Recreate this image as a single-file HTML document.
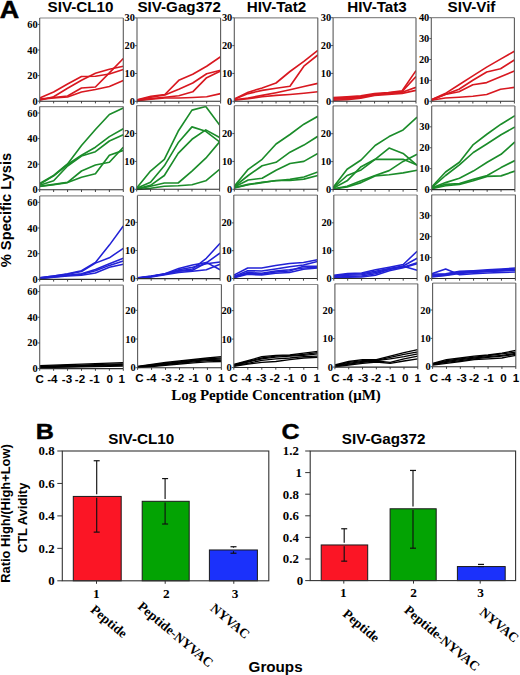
<!DOCTYPE html>
<html><head><meta charset="utf-8"><title>Figure</title>
<style>html,body{margin:0;padding:0;background:#fff;} body{width:520px;height:675px;overflow:hidden;} svg{display:block;}</style>
</head><body>
<svg width="520" height="675" viewBox="0 0 520 675">
<rect x="0" y="0" width="520" height="675" fill="#ffffff"/>
<text transform="translate(-0.2,17.9) scale(1.12,1)" font-family='"Liberation Sans", sans-serif' font-weight="bold" font-size="24" stroke="#000" stroke-width="0.5">A</text>
<text x="80.5" y="12" text-anchor="middle" font-family='"Liberation Sans", sans-serif' font-weight="bold" font-size="15.2">SIV-CL10</text>
<text x="179.2" y="12" text-anchor="middle" font-family='"Liberation Sans", sans-serif' font-weight="bold" font-size="15.2">SIV-Gag372</text>
<text x="276.5" y="12" text-anchor="middle" font-family='"Liberation Sans", sans-serif' font-weight="bold" font-size="15.2">HIV-Tat2</text>
<text x="377" y="12" text-anchor="middle" font-family='"Liberation Sans", sans-serif' font-weight="bold" font-size="15.2">HIV-Tat3</text>
<text x="471.5" y="12" text-anchor="middle" font-family='"Liberation Sans", sans-serif' font-weight="bold" font-size="15.2">SIV-Vif</text>
<clipPath id="c00"><rect x="39.7" y="18" width="83.6" height="84.2"/></clipPath>
<polyline clip-path="url(#c00)" points="39.7,98 53.63,92 67.57,84 81.5,76.5 95.43,76.2 109.37,74 123.3,69.5" fill="none" stroke="#d81820" stroke-width="1.65" stroke-linejoin="round"/>
<polyline clip-path="url(#c00)" points="39.7,100.2 53.63,96.8 67.57,88.3 81.5,80.3 95.43,73.3 109.37,69.2 123.3,66.2" fill="none" stroke="#d81820" stroke-width="1.65" stroke-linejoin="round"/>
<polyline clip-path="url(#c00)" points="39.7,99 53.63,97.5 67.57,96 81.5,88 95.43,87 109.37,72.8 123.3,58.5" fill="none" stroke="#d81820" stroke-width="1.65" stroke-linejoin="round"/>
<polyline clip-path="url(#c00)" points="39.7,99.5 53.63,98 67.57,97 81.5,92 95.43,89.5 109.37,86.5 123.3,80.5" fill="none" stroke="#d81820" stroke-width="1.65" stroke-linejoin="round"/>
<line x1="39.7" y1="18" x2="123.3" y2="18" stroke="#8a8a8a" stroke-width="1.2"/>
<line x1="123.3" y1="18" x2="123.3" y2="101.2" stroke="#5a5a5a" stroke-width="1.1"/>
<line x1="39.7" y1="18" x2="39.7" y2="101.2" stroke="#5a5a5a" stroke-width="1.1"/>
<line x1="39.7" y1="101.2" x2="123.3" y2="101.2" stroke="#2a2a2a" stroke-width="1.1"/>
<line x1="39.7" y1="101.2" x2="39.7" y2="103.4" stroke="#333" stroke-width="0.9"/>
<line x1="53.63" y1="101.2" x2="53.63" y2="103.4" stroke="#333" stroke-width="0.9"/>
<line x1="67.57" y1="101.2" x2="67.57" y2="103.4" stroke="#333" stroke-width="0.9"/>
<line x1="81.5" y1="101.2" x2="81.5" y2="103.4" stroke="#333" stroke-width="0.9"/>
<line x1="95.43" y1="101.2" x2="95.43" y2="103.4" stroke="#333" stroke-width="0.9"/>
<line x1="109.37" y1="101.2" x2="109.37" y2="103.4" stroke="#333" stroke-width="0.9"/>
<line x1="123.3" y1="101.2" x2="123.3" y2="103.4" stroke="#333" stroke-width="0.9"/>
<line x1="37.7" y1="101.2" x2="39.7" y2="101.2" stroke="#444" stroke-width="0.9"/>
<text x="37.7" y="104.7" text-anchor="end" font-family='"Liberation Serif", serif' font-weight="bold" font-size="10.4">0</text>
<line x1="37.7" y1="75.6" x2="39.7" y2="75.6" stroke="#444" stroke-width="0.9"/>
<text x="37.7" y="79.1" text-anchor="end" font-family='"Liberation Serif", serif' font-weight="bold" font-size="10.4">20</text>
<line x1="37.7" y1="50" x2="39.7" y2="50" stroke="#444" stroke-width="0.9"/>
<text x="37.7" y="53.5" text-anchor="end" font-family='"Liberation Serif", serif' font-weight="bold" font-size="10.4">40</text>
<line x1="37.7" y1="24.4" x2="39.7" y2="24.4" stroke="#444" stroke-width="0.9"/>
<text x="37.7" y="27.9" text-anchor="end" font-family='"Liberation Serif", serif' font-weight="bold" font-size="10.4">60</text>
<clipPath id="c01"><rect x="137" y="17.9" width="83.6" height="84.4"/></clipPath>
<polyline clip-path="url(#c01)" points="137,99.8 150.93,96.3 164.87,94.5 178.8,80.3 192.73,74.2 206.67,66.2 220.6,56.8" fill="none" stroke="#d81820" stroke-width="1.65" stroke-linejoin="round"/>
<polyline clip-path="url(#c01)" points="137,100.2 150.93,97.2 164.87,95 178.8,89.2 192.73,83 206.67,73.8 220.6,70.3" fill="none" stroke="#d81820" stroke-width="1.65" stroke-linejoin="round"/>
<polyline clip-path="url(#c01)" points="137,100.3 150.93,98.6 164.87,97.2 178.8,95.7 192.73,91.8 206.67,77.7 220.6,71" fill="none" stroke="#d81820" stroke-width="1.65" stroke-linejoin="round"/>
<polyline clip-path="url(#c01)" points="137,100.7 150.93,99.3 164.87,98 178.8,98 192.73,97.5 206.67,96.8 220.6,93.6" fill="none" stroke="#d81820" stroke-width="1.65" stroke-linejoin="round"/>
<line x1="137" y1="17.9" x2="220.6" y2="17.9" stroke="#8a8a8a" stroke-width="1.2"/>
<line x1="220.6" y1="17.9" x2="220.6" y2="101.3" stroke="#5a5a5a" stroke-width="1.1"/>
<line x1="137" y1="17.9" x2="137" y2="101.3" stroke="#5a5a5a" stroke-width="1.1"/>
<line x1="137" y1="101.3" x2="220.6" y2="101.3" stroke="#2a2a2a" stroke-width="1.1"/>
<line x1="137" y1="101.3" x2="137" y2="103.5" stroke="#333" stroke-width="0.9"/>
<line x1="150.93" y1="101.3" x2="150.93" y2="103.5" stroke="#333" stroke-width="0.9"/>
<line x1="164.87" y1="101.3" x2="164.87" y2="103.5" stroke="#333" stroke-width="0.9"/>
<line x1="178.8" y1="101.3" x2="178.8" y2="103.5" stroke="#333" stroke-width="0.9"/>
<line x1="192.73" y1="101.3" x2="192.73" y2="103.5" stroke="#333" stroke-width="0.9"/>
<line x1="206.67" y1="101.3" x2="206.67" y2="103.5" stroke="#333" stroke-width="0.9"/>
<line x1="220.6" y1="101.3" x2="220.6" y2="103.5" stroke="#333" stroke-width="0.9"/>
<line x1="135" y1="101.3" x2="137" y2="101.3" stroke="#444" stroke-width="0.9"/>
<text x="135" y="104.8" text-anchor="end" font-family='"Liberation Serif", serif' font-weight="bold" font-size="10.4">0</text>
<line x1="135" y1="73.5" x2="137" y2="73.5" stroke="#444" stroke-width="0.9"/>
<text x="135" y="77" text-anchor="end" font-family='"Liberation Serif", serif' font-weight="bold" font-size="10.4">10</text>
<line x1="135" y1="45.7" x2="137" y2="45.7" stroke="#444" stroke-width="0.9"/>
<text x="135" y="49.2" text-anchor="end" font-family='"Liberation Serif", serif' font-weight="bold" font-size="10.4">20</text>
<line x1="135" y1="17.9" x2="137" y2="17.9" stroke="#444" stroke-width="0.9"/>
<text x="135" y="21.4" text-anchor="end" font-family='"Liberation Serif", serif' font-weight="bold" font-size="10.4">30</text>
<clipPath id="c02"><rect x="234.3" y="17.8" width="83.5" height="84.5"/></clipPath>
<polyline clip-path="url(#c02)" points="234.3,98.9 248.22,92.2 262.13,88 276.05,83 289.97,71.5 303.88,61.4 317.8,50.3" fill="none" stroke="#d81820" stroke-width="1.65" stroke-linejoin="round"/>
<polyline clip-path="url(#c02)" points="234.3,99.3 248.22,93.6 262.13,90.4 276.05,88.3 289.97,86.2 303.88,66.2 317.8,55" fill="none" stroke="#d81820" stroke-width="1.65" stroke-linejoin="round"/>
<polyline clip-path="url(#c02)" points="234.3,99.8 248.22,98 262.13,95.4 276.05,92.7 289.97,89.7 303.88,86.5 317.8,83.4" fill="none" stroke="#d81820" stroke-width="1.65" stroke-linejoin="round"/>
<polyline clip-path="url(#c02)" points="234.3,100.3 248.22,98.6 262.13,96.8 276.05,95.4 289.97,94.5 303.88,93.3 317.8,91.8" fill="none" stroke="#d81820" stroke-width="1.65" stroke-linejoin="round"/>
<line x1="234.3" y1="17.8" x2="317.8" y2="17.8" stroke="#8a8a8a" stroke-width="1.2"/>
<line x1="317.8" y1="17.8" x2="317.8" y2="101.3" stroke="#5a5a5a" stroke-width="1.1"/>
<line x1="234.3" y1="17.8" x2="234.3" y2="101.3" stroke="#5a5a5a" stroke-width="1.1"/>
<line x1="234.3" y1="101.3" x2="317.8" y2="101.3" stroke="#2a2a2a" stroke-width="1.1"/>
<line x1="234.3" y1="101.3" x2="234.3" y2="103.5" stroke="#333" stroke-width="0.9"/>
<line x1="248.22" y1="101.3" x2="248.22" y2="103.5" stroke="#333" stroke-width="0.9"/>
<line x1="262.13" y1="101.3" x2="262.13" y2="103.5" stroke="#333" stroke-width="0.9"/>
<line x1="276.05" y1="101.3" x2="276.05" y2="103.5" stroke="#333" stroke-width="0.9"/>
<line x1="289.97" y1="101.3" x2="289.97" y2="103.5" stroke="#333" stroke-width="0.9"/>
<line x1="303.88" y1="101.3" x2="303.88" y2="103.5" stroke="#333" stroke-width="0.9"/>
<line x1="317.8" y1="101.3" x2="317.8" y2="103.5" stroke="#333" stroke-width="0.9"/>
<line x1="232.3" y1="101.3" x2="234.3" y2="101.3" stroke="#444" stroke-width="0.9"/>
<text x="232.3" y="104.8" text-anchor="end" font-family='"Liberation Serif", serif' font-weight="bold" font-size="10.4">0</text>
<line x1="232.3" y1="73.47" x2="234.3" y2="73.47" stroke="#444" stroke-width="0.9"/>
<text x="232.3" y="76.97" text-anchor="end" font-family='"Liberation Serif", serif' font-weight="bold" font-size="10.4">10</text>
<line x1="232.3" y1="45.63" x2="234.3" y2="45.63" stroke="#444" stroke-width="0.9"/>
<text x="232.3" y="49.13" text-anchor="end" font-family='"Liberation Serif", serif' font-weight="bold" font-size="10.4">20</text>
<line x1="232.3" y1="17.8" x2="234.3" y2="17.8" stroke="#444" stroke-width="0.9"/>
<text x="232.3" y="21.3" text-anchor="end" font-family='"Liberation Serif", serif' font-weight="bold" font-size="10.4">30</text>
<clipPath id="c03"><rect x="333.1" y="17.7" width="82.9" height="84.6"/></clipPath>
<polyline clip-path="url(#c03)" points="333.1,97.5 346.92,96.8 360.73,95.8 374.55,93.6 388.37,92.5 402.18,90.8 416,70.6" fill="none" stroke="#d81820" stroke-width="1.65" stroke-linejoin="round"/>
<polyline clip-path="url(#c03)" points="333.1,98.3 346.92,97.6 360.73,96.6 374.55,94.2 388.37,93.1 402.18,91.5 416,76.5" fill="none" stroke="#d81820" stroke-width="1.65" stroke-linejoin="round"/>
<polyline clip-path="url(#c03)" points="333.1,99.1 346.92,98.4 360.73,97.3 374.55,94.8 388.37,93.8 402.18,92.3 416,87.4" fill="none" stroke="#d81820" stroke-width="1.65" stroke-linejoin="round"/>
<polyline clip-path="url(#c03)" points="333.1,100.2 346.92,99.6 360.73,98.1 374.55,95.4 388.37,94.5 402.18,93.4 416,90.4" fill="none" stroke="#d81820" stroke-width="1.65" stroke-linejoin="round"/>
<line x1="333.1" y1="17.7" x2="416" y2="17.7" stroke="#8a8a8a" stroke-width="1.2"/>
<line x1="416" y1="17.7" x2="416" y2="101.3" stroke="#5a5a5a" stroke-width="1.1"/>
<line x1="333.1" y1="17.7" x2="333.1" y2="101.3" stroke="#5a5a5a" stroke-width="1.1"/>
<line x1="333.1" y1="101.3" x2="416" y2="101.3" stroke="#2a2a2a" stroke-width="1.1"/>
<line x1="333.1" y1="101.3" x2="333.1" y2="103.5" stroke="#333" stroke-width="0.9"/>
<line x1="346.92" y1="101.3" x2="346.92" y2="103.5" stroke="#333" stroke-width="0.9"/>
<line x1="360.73" y1="101.3" x2="360.73" y2="103.5" stroke="#333" stroke-width="0.9"/>
<line x1="374.55" y1="101.3" x2="374.55" y2="103.5" stroke="#333" stroke-width="0.9"/>
<line x1="388.37" y1="101.3" x2="388.37" y2="103.5" stroke="#333" stroke-width="0.9"/>
<line x1="402.18" y1="101.3" x2="402.18" y2="103.5" stroke="#333" stroke-width="0.9"/>
<line x1="416" y1="101.3" x2="416" y2="103.5" stroke="#333" stroke-width="0.9"/>
<line x1="331.1" y1="101.3" x2="333.1" y2="101.3" stroke="#444" stroke-width="0.9"/>
<text x="331.1" y="104.8" text-anchor="end" font-family='"Liberation Serif", serif' font-weight="bold" font-size="10.4">0</text>
<line x1="331.1" y1="73.43" x2="333.1" y2="73.43" stroke="#444" stroke-width="0.9"/>
<text x="331.1" y="76.93" text-anchor="end" font-family='"Liberation Serif", serif' font-weight="bold" font-size="10.4">10</text>
<line x1="331.1" y1="45.57" x2="333.1" y2="45.57" stroke="#444" stroke-width="0.9"/>
<text x="331.1" y="49.07" text-anchor="end" font-family='"Liberation Serif", serif' font-weight="bold" font-size="10.4">20</text>
<line x1="331.1" y1="17.7" x2="333.1" y2="17.7" stroke="#444" stroke-width="0.9"/>
<text x="331.1" y="21.2" text-anchor="end" font-family='"Liberation Serif", serif' font-weight="bold" font-size="10.4">30</text>
<clipPath id="c04"><rect x="431.3" y="17.7" width="83.1" height="84.6"/></clipPath>
<polyline clip-path="url(#c04)" points="431.3,99.8 445.15,93.6 459,84.8 472.85,75.9 486.7,67.1 500.55,59.1 514.4,51.2" fill="none" stroke="#d81820" stroke-width="1.65" stroke-linejoin="round"/>
<polyline clip-path="url(#c04)" points="431.3,99.8 445.15,94.5 459,89.2 472.85,80.3 486.7,72 500.55,68.8 514.4,60" fill="none" stroke="#d81820" stroke-width="1.65" stroke-linejoin="round"/>
<polyline clip-path="url(#c04)" points="431.3,100.2 445.15,94.5 459,91.8 472.85,84.8 486.7,82.6 500.55,76.8 514.4,71" fill="none" stroke="#d81820" stroke-width="1.65" stroke-linejoin="round"/>
<polyline clip-path="url(#c04)" points="431.3,100.3 445.15,98 459,97.2 472.85,96.3 486.7,94.5 500.55,89.2 514.4,87.4" fill="none" stroke="#d81820" stroke-width="1.65" stroke-linejoin="round"/>
<line x1="431.3" y1="17.7" x2="514.4" y2="17.7" stroke="#8a8a8a" stroke-width="1.2"/>
<line x1="514.4" y1="17.7" x2="514.4" y2="101.3" stroke="#5a5a5a" stroke-width="1.1"/>
<line x1="431.3" y1="17.7" x2="431.3" y2="101.3" stroke="#5a5a5a" stroke-width="1.1"/>
<line x1="431.3" y1="101.3" x2="514.4" y2="101.3" stroke="#2a2a2a" stroke-width="1.1"/>
<line x1="431.3" y1="101.3" x2="431.3" y2="103.5" stroke="#333" stroke-width="0.9"/>
<line x1="445.15" y1="101.3" x2="445.15" y2="103.5" stroke="#333" stroke-width="0.9"/>
<line x1="459" y1="101.3" x2="459" y2="103.5" stroke="#333" stroke-width="0.9"/>
<line x1="472.85" y1="101.3" x2="472.85" y2="103.5" stroke="#333" stroke-width="0.9"/>
<line x1="486.7" y1="101.3" x2="486.7" y2="103.5" stroke="#333" stroke-width="0.9"/>
<line x1="500.55" y1="101.3" x2="500.55" y2="103.5" stroke="#333" stroke-width="0.9"/>
<line x1="514.4" y1="101.3" x2="514.4" y2="103.5" stroke="#333" stroke-width="0.9"/>
<line x1="429.3" y1="101.3" x2="431.3" y2="101.3" stroke="#444" stroke-width="0.9"/>
<text x="429.3" y="104.8" text-anchor="end" font-family='"Liberation Serif", serif' font-weight="bold" font-size="10.4">0</text>
<line x1="429.3" y1="80.4" x2="431.3" y2="80.4" stroke="#444" stroke-width="0.9"/>
<text x="429.3" y="83.9" text-anchor="end" font-family='"Liberation Serif", serif' font-weight="bold" font-size="10.4">10</text>
<line x1="429.3" y1="59.5" x2="431.3" y2="59.5" stroke="#444" stroke-width="0.9"/>
<text x="429.3" y="63" text-anchor="end" font-family='"Liberation Serif", serif' font-weight="bold" font-size="10.4">20</text>
<line x1="429.3" y1="38.6" x2="431.3" y2="38.6" stroke="#444" stroke-width="0.9"/>
<text x="429.3" y="42.1" text-anchor="end" font-family='"Liberation Serif", serif' font-weight="bold" font-size="10.4">30</text>
<line x1="429.3" y1="17.7" x2="431.3" y2="17.7" stroke="#444" stroke-width="0.9"/>
<text x="429.3" y="21.2" text-anchor="end" font-family='"Liberation Serif", serif' font-weight="bold" font-size="10.4">40</text>
<clipPath id="c10"><rect x="39.7" y="106.6" width="83.6" height="84.2"/></clipPath>
<polyline clip-path="url(#c10)" points="39.7,183.5 53.63,175.5 67.57,164 81.5,145.5 95.43,129.5 109.37,114.5 123.3,108" fill="none" stroke="#1b8c2a" stroke-width="1.65" stroke-linejoin="round"/>
<polyline clip-path="url(#c10)" points="39.7,184.4 53.63,175.8 67.57,164.5 81.5,155.2 95.43,147.2 109.37,136.6 123.3,128.7" fill="none" stroke="#1b8c2a" stroke-width="1.65" stroke-linejoin="round"/>
<polyline clip-path="url(#c10)" points="39.7,185.3 53.63,180.8 67.57,166 81.5,156 95.43,151.7 109.37,141 123.3,134.8" fill="none" stroke="#1b8c2a" stroke-width="1.65" stroke-linejoin="round"/>
<polyline clip-path="url(#c10)" points="39.7,186.2 53.63,184.4 67.57,182.3 81.5,171 95.43,165 109.37,162.3 123.3,147.2" fill="none" stroke="#1b8c2a" stroke-width="1.65" stroke-linejoin="round"/>
<polyline clip-path="url(#c10)" points="39.7,186.5 53.63,184.7 67.57,182.6 81.5,177.3 95.43,173.8 109.37,155.2 123.3,150.4" fill="none" stroke="#1b8c2a" stroke-width="1.65" stroke-linejoin="round"/>
<line x1="39.7" y1="106.6" x2="123.3" y2="106.6" stroke="#8a8a8a" stroke-width="1.2"/>
<line x1="123.3" y1="106.6" x2="123.3" y2="189.8" stroke="#5a5a5a" stroke-width="1.1"/>
<line x1="39.7" y1="106.6" x2="39.7" y2="189.8" stroke="#5a5a5a" stroke-width="1.1"/>
<line x1="39.7" y1="189.8" x2="123.3" y2="189.8" stroke="#2a2a2a" stroke-width="1.1"/>
<line x1="39.7" y1="189.8" x2="39.7" y2="192" stroke="#333" stroke-width="0.9"/>
<line x1="53.63" y1="189.8" x2="53.63" y2="192" stroke="#333" stroke-width="0.9"/>
<line x1="67.57" y1="189.8" x2="67.57" y2="192" stroke="#333" stroke-width="0.9"/>
<line x1="81.5" y1="189.8" x2="81.5" y2="192" stroke="#333" stroke-width="0.9"/>
<line x1="95.43" y1="189.8" x2="95.43" y2="192" stroke="#333" stroke-width="0.9"/>
<line x1="109.37" y1="189.8" x2="109.37" y2="192" stroke="#333" stroke-width="0.9"/>
<line x1="123.3" y1="189.8" x2="123.3" y2="192" stroke="#333" stroke-width="0.9"/>
<line x1="37.7" y1="189.8" x2="39.7" y2="189.8" stroke="#444" stroke-width="0.9"/>
<text x="37.7" y="193.3" text-anchor="end" font-family='"Liberation Serif", serif' font-weight="bold" font-size="10.4">0</text>
<line x1="37.7" y1="164.2" x2="39.7" y2="164.2" stroke="#444" stroke-width="0.9"/>
<text x="37.7" y="167.7" text-anchor="end" font-family='"Liberation Serif", serif' font-weight="bold" font-size="10.4">20</text>
<line x1="37.7" y1="138.6" x2="39.7" y2="138.6" stroke="#444" stroke-width="0.9"/>
<text x="37.7" y="142.1" text-anchor="end" font-family='"Liberation Serif", serif' font-weight="bold" font-size="10.4">40</text>
<line x1="37.7" y1="113" x2="39.7" y2="113" stroke="#444" stroke-width="0.9"/>
<text x="37.7" y="116.5" text-anchor="end" font-family='"Liberation Serif", serif' font-weight="bold" font-size="10.4">60</text>
<clipPath id="c11"><rect x="136.7" y="105.6" width="82.9" height="84.7"/></clipPath>
<polyline clip-path="url(#c11)" points="136.7,188 150.52,171.1 164.33,159.3 178.15,131.3 191.97,110.1 205.78,106.5 219.6,125.1" fill="none" stroke="#1b8c2a" stroke-width="1.65" stroke-linejoin="round"/>
<polyline clip-path="url(#c11)" points="136.7,188.3 150.52,182.3 164.33,165.8 178.15,142.8 191.97,126.9 205.78,131.3 219.6,141.9" fill="none" stroke="#1b8c2a" stroke-width="1.65" stroke-linejoin="round"/>
<polyline clip-path="url(#c11)" points="136.7,188.8 150.52,185.3 164.33,175.5 178.15,153.4 191.97,139.3 205.78,129.9 219.6,137.5" fill="none" stroke="#1b8c2a" stroke-width="1.65" stroke-linejoin="round"/>
<polyline clip-path="url(#c11)" points="136.7,189.2 150.52,186.2 164.33,183 178.15,183 191.97,171.1 205.78,158.2 219.6,141.9" fill="none" stroke="#1b8c2a" stroke-width="1.65" stroke-linejoin="round"/>
<polyline clip-path="url(#c11)" points="136.7,189.7 150.52,188.3 164.33,186.2 178.15,185.8 191.97,184.7 205.78,180.8 219.6,169.3" fill="none" stroke="#1b8c2a" stroke-width="1.65" stroke-linejoin="round"/>
<line x1="136.7" y1="105.6" x2="219.6" y2="105.6" stroke="#8a8a8a" stroke-width="1.2"/>
<line x1="219.6" y1="105.6" x2="219.6" y2="189.3" stroke="#5a5a5a" stroke-width="1.1"/>
<line x1="136.7" y1="105.6" x2="136.7" y2="189.3" stroke="#5a5a5a" stroke-width="1.1"/>
<line x1="136.7" y1="189.3" x2="219.6" y2="189.3" stroke="#2a2a2a" stroke-width="1.1"/>
<line x1="136.7" y1="189.3" x2="136.7" y2="191.5" stroke="#333" stroke-width="0.9"/>
<line x1="150.52" y1="189.3" x2="150.52" y2="191.5" stroke="#333" stroke-width="0.9"/>
<line x1="164.33" y1="189.3" x2="164.33" y2="191.5" stroke="#333" stroke-width="0.9"/>
<line x1="178.15" y1="189.3" x2="178.15" y2="191.5" stroke="#333" stroke-width="0.9"/>
<line x1="191.97" y1="189.3" x2="191.97" y2="191.5" stroke="#333" stroke-width="0.9"/>
<line x1="205.78" y1="189.3" x2="205.78" y2="191.5" stroke="#333" stroke-width="0.9"/>
<line x1="219.6" y1="189.3" x2="219.6" y2="191.5" stroke="#333" stroke-width="0.9"/>
<line x1="134.7" y1="189.3" x2="136.7" y2="189.3" stroke="#444" stroke-width="0.9"/>
<text x="134.7" y="192.8" text-anchor="end" font-family='"Liberation Serif", serif' font-weight="bold" font-size="10.4">0</text>
<line x1="134.7" y1="161.4" x2="136.7" y2="161.4" stroke="#444" stroke-width="0.9"/>
<text x="134.7" y="164.9" text-anchor="end" font-family='"Liberation Serif", serif' font-weight="bold" font-size="10.4">10</text>
<line x1="134.7" y1="133.5" x2="136.7" y2="133.5" stroke="#444" stroke-width="0.9"/>
<text x="134.7" y="137" text-anchor="end" font-family='"Liberation Serif", serif' font-weight="bold" font-size="10.4">20</text>
<clipPath id="c12"><rect x="234.3" y="105.7" width="83.5" height="84.6"/></clipPath>
<polyline clip-path="url(#c12)" points="234.3,186.2 248.22,169.3 262.13,159.3 276.05,144 289.97,134.5 303.88,124.2 317.8,116.3" fill="none" stroke="#1b8c2a" stroke-width="1.65" stroke-linejoin="round"/>
<polyline clip-path="url(#c12)" points="234.3,186.5 248.22,175.5 262.13,165.8 276.05,162.3 289.97,152.2 303.88,145.1 317.8,136.3" fill="none" stroke="#1b8c2a" stroke-width="1.65" stroke-linejoin="round"/>
<polyline clip-path="url(#c12)" points="234.3,187 248.22,180 262.13,178.2 276.05,170.2 289.97,163.5 303.88,161.4 317.8,153.4" fill="none" stroke="#1b8c2a" stroke-width="1.65" stroke-linejoin="round"/>
<polyline clip-path="url(#c12)" points="234.3,187.6 248.22,184.4 262.13,182.3 276.05,180.8 289.97,179.4 303.88,177 317.8,172" fill="none" stroke="#1b8c2a" stroke-width="1.65" stroke-linejoin="round"/>
<polyline clip-path="url(#c12)" points="234.3,188 248.22,184.7 262.13,182.6 276.05,180.5 289.97,180.5 303.88,179.1 317.8,175.5" fill="none" stroke="#1b8c2a" stroke-width="1.65" stroke-linejoin="round"/>
<line x1="234.3" y1="105.7" x2="317.8" y2="105.7" stroke="#8a8a8a" stroke-width="1.2"/>
<line x1="317.8" y1="105.7" x2="317.8" y2="189.3" stroke="#5a5a5a" stroke-width="1.1"/>
<line x1="234.3" y1="105.7" x2="234.3" y2="189.3" stroke="#5a5a5a" stroke-width="1.1"/>
<line x1="234.3" y1="189.3" x2="317.8" y2="189.3" stroke="#2a2a2a" stroke-width="1.1"/>
<line x1="234.3" y1="189.3" x2="234.3" y2="191.5" stroke="#333" stroke-width="0.9"/>
<line x1="248.22" y1="189.3" x2="248.22" y2="191.5" stroke="#333" stroke-width="0.9"/>
<line x1="262.13" y1="189.3" x2="262.13" y2="191.5" stroke="#333" stroke-width="0.9"/>
<line x1="276.05" y1="189.3" x2="276.05" y2="191.5" stroke="#333" stroke-width="0.9"/>
<line x1="289.97" y1="189.3" x2="289.97" y2="191.5" stroke="#333" stroke-width="0.9"/>
<line x1="303.88" y1="189.3" x2="303.88" y2="191.5" stroke="#333" stroke-width="0.9"/>
<line x1="317.8" y1="189.3" x2="317.8" y2="191.5" stroke="#333" stroke-width="0.9"/>
<line x1="232.3" y1="189.3" x2="234.3" y2="189.3" stroke="#444" stroke-width="0.9"/>
<text x="232.3" y="192.8" text-anchor="end" font-family='"Liberation Serif", serif' font-weight="bold" font-size="10.4">0</text>
<line x1="232.3" y1="161.43" x2="234.3" y2="161.43" stroke="#444" stroke-width="0.9"/>
<text x="232.3" y="164.93" text-anchor="end" font-family='"Liberation Serif", serif' font-weight="bold" font-size="10.4">10</text>
<line x1="232.3" y1="133.57" x2="234.3" y2="133.57" stroke="#444" stroke-width="0.9"/>
<text x="232.3" y="137.07" text-anchor="end" font-family='"Liberation Serif", serif' font-weight="bold" font-size="10.4">20</text>
<clipPath id="c13"><rect x="333.1" y="105.8" width="84" height="84.7"/></clipPath>
<polyline clip-path="url(#c13)" points="333.1,187.6 347.1,169.3 361.1,160 375.1,145.5 389.1,136.6 403.1,129.9 417.1,117.2" fill="none" stroke="#1b8c2a" stroke-width="1.65" stroke-linejoin="round"/>
<polyline clip-path="url(#c13)" points="333.1,188 347.1,175.5 361.1,169.9 375.1,159.3 389.1,148.1 403.1,153.4 417.1,165.3" fill="none" stroke="#1b8c2a" stroke-width="1.65" stroke-linejoin="round"/>
<polyline clip-path="url(#c13)" points="333.1,188.3 347.1,180.8 361.1,166.7 375.1,159.3 389.1,159.3 403.1,159.3 417.1,164.9" fill="none" stroke="#1b8c2a" stroke-width="1.65" stroke-linejoin="round"/>
<polyline clip-path="url(#c13)" points="333.1,188.8 347.1,186.2 361.1,180.8 375.1,175.5 389.1,170.6 403.1,161.4 417.1,154.3" fill="none" stroke="#1b8c2a" stroke-width="1.65" stroke-linejoin="round"/>
<polyline clip-path="url(#c13)" points="333.1,189.2 347.1,187 361.1,182.6 375.1,175.9 389.1,174.7 403.1,172.9 417.1,170.2" fill="none" stroke="#1b8c2a" stroke-width="1.65" stroke-linejoin="round"/>
<line x1="333.1" y1="105.8" x2="417.1" y2="105.8" stroke="#8a8a8a" stroke-width="1.2"/>
<line x1="417.1" y1="105.8" x2="417.1" y2="189.5" stroke="#5a5a5a" stroke-width="1.1"/>
<line x1="333.1" y1="105.8" x2="333.1" y2="189.5" stroke="#5a5a5a" stroke-width="1.1"/>
<line x1="333.1" y1="189.5" x2="417.1" y2="189.5" stroke="#2a2a2a" stroke-width="1.1"/>
<line x1="333.1" y1="189.5" x2="333.1" y2="191.7" stroke="#333" stroke-width="0.9"/>
<line x1="347.1" y1="189.5" x2="347.1" y2="191.7" stroke="#333" stroke-width="0.9"/>
<line x1="361.1" y1="189.5" x2="361.1" y2="191.7" stroke="#333" stroke-width="0.9"/>
<line x1="375.1" y1="189.5" x2="375.1" y2="191.7" stroke="#333" stroke-width="0.9"/>
<line x1="389.1" y1="189.5" x2="389.1" y2="191.7" stroke="#333" stroke-width="0.9"/>
<line x1="403.1" y1="189.5" x2="403.1" y2="191.7" stroke="#333" stroke-width="0.9"/>
<line x1="417.1" y1="189.5" x2="417.1" y2="191.7" stroke="#333" stroke-width="0.9"/>
<line x1="331.1" y1="189.5" x2="333.1" y2="189.5" stroke="#444" stroke-width="0.9"/>
<text x="331.1" y="193" text-anchor="end" font-family='"Liberation Serif", serif' font-weight="bold" font-size="10.4">0</text>
<line x1="331.1" y1="161.6" x2="333.1" y2="161.6" stroke="#444" stroke-width="0.9"/>
<text x="331.1" y="165.1" text-anchor="end" font-family='"Liberation Serif", serif' font-weight="bold" font-size="10.4">10</text>
<line x1="331.1" y1="133.7" x2="333.1" y2="133.7" stroke="#444" stroke-width="0.9"/>
<text x="331.1" y="137.2" text-anchor="end" font-family='"Liberation Serif", serif' font-weight="bold" font-size="10.4">20</text>
<clipPath id="c14"><rect x="431.7" y="105.9" width="83.2" height="84.7"/></clipPath>
<polyline clip-path="url(#c14)" points="431.7,187 445.57,172 459.43,162.3 473.3,144.6 487.17,134 501.03,124.2 514.9,115.7" fill="none" stroke="#1b8c2a" stroke-width="1.65" stroke-linejoin="round"/>
<polyline clip-path="url(#c14)" points="431.7,187.6 445.57,175.5 459.43,164.9 473.3,152.5 487.17,143.7 501.03,134.8 514.9,126.9" fill="none" stroke="#1b8c2a" stroke-width="1.65" stroke-linejoin="round"/>
<polyline clip-path="url(#c14)" points="431.7,187.9 445.57,182.6 459.43,178.2 473.3,171.1 487.17,162.3 501.03,154.3 514.9,141.9" fill="none" stroke="#1b8c2a" stroke-width="1.65" stroke-linejoin="round"/>
<polyline clip-path="url(#c14)" points="431.7,188.3 445.57,184.4 459.43,183.5 473.3,179.4 487.17,175.5 501.03,167.6 514.9,160.5" fill="none" stroke="#1b8c2a" stroke-width="1.65" stroke-linejoin="round"/>
<polyline clip-path="url(#c14)" points="431.7,188.8 445.57,185.8 459.43,184.4 473.3,180.8 487.17,176.4 501.03,175.9 514.9,171.1" fill="none" stroke="#1b8c2a" stroke-width="1.65" stroke-linejoin="round"/>
<line x1="431.7" y1="105.9" x2="514.9" y2="105.9" stroke="#8a8a8a" stroke-width="1.2"/>
<line x1="514.9" y1="105.9" x2="514.9" y2="189.6" stroke="#5a5a5a" stroke-width="1.1"/>
<line x1="431.7" y1="105.9" x2="431.7" y2="189.6" stroke="#5a5a5a" stroke-width="1.1"/>
<line x1="431.7" y1="189.6" x2="514.9" y2="189.6" stroke="#2a2a2a" stroke-width="1.1"/>
<line x1="431.7" y1="189.6" x2="431.7" y2="191.8" stroke="#333" stroke-width="0.9"/>
<line x1="445.57" y1="189.6" x2="445.57" y2="191.8" stroke="#333" stroke-width="0.9"/>
<line x1="459.43" y1="189.6" x2="459.43" y2="191.8" stroke="#333" stroke-width="0.9"/>
<line x1="473.3" y1="189.6" x2="473.3" y2="191.8" stroke="#333" stroke-width="0.9"/>
<line x1="487.17" y1="189.6" x2="487.17" y2="191.8" stroke="#333" stroke-width="0.9"/>
<line x1="501.03" y1="189.6" x2="501.03" y2="191.8" stroke="#333" stroke-width="0.9"/>
<line x1="514.9" y1="189.6" x2="514.9" y2="191.8" stroke="#333" stroke-width="0.9"/>
<line x1="429.7" y1="189.6" x2="431.7" y2="189.6" stroke="#444" stroke-width="0.9"/>
<text x="429.7" y="193.1" text-anchor="end" font-family='"Liberation Serif", serif' font-weight="bold" font-size="10.4">0</text>
<line x1="429.7" y1="168.68" x2="431.7" y2="168.68" stroke="#444" stroke-width="0.9"/>
<text x="429.7" y="172.18" text-anchor="end" font-family='"Liberation Serif", serif' font-weight="bold" font-size="10.4">10</text>
<line x1="429.7" y1="147.75" x2="431.7" y2="147.75" stroke="#444" stroke-width="0.9"/>
<text x="429.7" y="151.25" text-anchor="end" font-family='"Liberation Serif", serif' font-weight="bold" font-size="10.4">20</text>
<line x1="429.7" y1="126.83" x2="431.7" y2="126.83" stroke="#444" stroke-width="0.9"/>
<text x="429.7" y="130.32" text-anchor="end" font-family='"Liberation Serif", serif' font-weight="bold" font-size="10.4">30</text>
<clipPath id="c20"><rect x="39.7" y="195.9" width="83.6" height="84.5"/></clipPath>
<polyline clip-path="url(#c20)" points="39.7,277.8 53.63,276 67.57,273.7 81.5,270.7 95.43,262.4 109.37,245.1 123.3,226" fill="none" stroke="#2222d6" stroke-width="1.55" stroke-linejoin="round"/>
<polyline clip-path="url(#c20)" points="39.7,277.8 53.63,276 67.57,274.3 81.5,271.6 95.43,263.1 109.37,257.8 123.3,248.3" fill="none" stroke="#2222d6" stroke-width="1.55" stroke-linejoin="round"/>
<polyline clip-path="url(#c20)" points="39.7,278.2 53.63,276.6 67.57,275.2 81.5,273.7 95.43,269.5 109.37,263.7 123.3,258.3" fill="none" stroke="#2222d6" stroke-width="1.55" stroke-linejoin="round"/>
<polyline clip-path="url(#c20)" points="39.7,278.3 53.63,276.9 67.57,275.5 81.5,274.3 95.43,270.7 109.37,265.4 123.3,261" fill="none" stroke="#2222d6" stroke-width="1.55" stroke-linejoin="round"/>
<polyline clip-path="url(#c20)" points="39.7,278.7 53.63,277.3 67.57,276 81.5,275.2 95.43,273 109.37,267.2 123.3,264.2" fill="none" stroke="#2222d6" stroke-width="1.55" stroke-linejoin="round"/>
<line x1="39.7" y1="195.9" x2="123.3" y2="195.9" stroke="#8a8a8a" stroke-width="1.2"/>
<line x1="123.3" y1="195.9" x2="123.3" y2="279.4" stroke="#5a5a5a" stroke-width="1.1"/>
<line x1="39.7" y1="195.9" x2="39.7" y2="279.4" stroke="#5a5a5a" stroke-width="1.1"/>
<line x1="39.7" y1="279.4" x2="123.3" y2="279.4" stroke="#2a2a2a" stroke-width="1.1"/>
<line x1="39.7" y1="279.4" x2="39.7" y2="281.6" stroke="#333" stroke-width="0.9"/>
<line x1="53.63" y1="279.4" x2="53.63" y2="281.6" stroke="#333" stroke-width="0.9"/>
<line x1="67.57" y1="279.4" x2="67.57" y2="281.6" stroke="#333" stroke-width="0.9"/>
<line x1="81.5" y1="279.4" x2="81.5" y2="281.6" stroke="#333" stroke-width="0.9"/>
<line x1="95.43" y1="279.4" x2="95.43" y2="281.6" stroke="#333" stroke-width="0.9"/>
<line x1="109.37" y1="279.4" x2="109.37" y2="281.6" stroke="#333" stroke-width="0.9"/>
<line x1="123.3" y1="279.4" x2="123.3" y2="281.6" stroke="#333" stroke-width="0.9"/>
<line x1="37.7" y1="279.4" x2="39.7" y2="279.4" stroke="#444" stroke-width="0.9"/>
<text x="37.7" y="282.9" text-anchor="end" font-family='"Liberation Serif", serif' font-weight="bold" font-size="10.4">0</text>
<line x1="37.7" y1="253.71" x2="39.7" y2="253.71" stroke="#444" stroke-width="0.9"/>
<text x="37.7" y="257.21" text-anchor="end" font-family='"Liberation Serif", serif' font-weight="bold" font-size="10.4">20</text>
<line x1="37.7" y1="228.02" x2="39.7" y2="228.02" stroke="#444" stroke-width="0.9"/>
<text x="37.7" y="231.52" text-anchor="end" font-family='"Liberation Serif", serif' font-weight="bold" font-size="10.4">40</text>
<line x1="37.7" y1="202.32" x2="39.7" y2="202.32" stroke="#444" stroke-width="0.9"/>
<text x="37.7" y="205.82" text-anchor="end" font-family='"Liberation Serif", serif' font-weight="bold" font-size="10.4">60</text>
<clipPath id="c21"><rect x="137.4" y="195.4" width="82.7" height="84.2"/></clipPath>
<polyline clip-path="url(#c21)" points="137.4,277.8 151.18,276 164.97,273.7 178.75,270.7 192.53,269 206.32,258.3 220.1,243.3" fill="none" stroke="#2222d6" stroke-width="1.55" stroke-linejoin="round"/>
<polyline clip-path="url(#c21)" points="137.4,278 151.18,276.2 164.97,274.3 178.75,271.3 192.53,270.2 206.32,262.8 220.1,253" fill="none" stroke="#2222d6" stroke-width="1.55" stroke-linejoin="round"/>
<polyline clip-path="url(#c21)" points="137.4,278.2 151.18,276.4 164.97,273.7 178.75,268.4 192.53,264.9 206.32,262.4 220.1,269.8" fill="none" stroke="#2222d6" stroke-width="1.55" stroke-linejoin="round"/>
<polyline clip-path="url(#c21)" points="137.4,278.3 151.18,276.6 164.97,274.3 178.75,269.8 192.53,267.2 206.32,263.7 220.1,261.9" fill="none" stroke="#2222d6" stroke-width="1.55" stroke-linejoin="round"/>
<polyline clip-path="url(#c21)" points="137.4,278.5 151.18,277 164.97,274.8 178.75,272.5 192.53,271.3 206.32,269.8 220.1,264.2" fill="none" stroke="#2222d6" stroke-width="1.55" stroke-linejoin="round"/>
<line x1="137.4" y1="195.4" x2="220.1" y2="195.4" stroke="#8a8a8a" stroke-width="1.2"/>
<line x1="220.1" y1="195.4" x2="220.1" y2="278.6" stroke="#5a5a5a" stroke-width="1.1"/>
<line x1="137.4" y1="195.4" x2="137.4" y2="278.6" stroke="#5a5a5a" stroke-width="1.1"/>
<line x1="137.4" y1="278.6" x2="220.1" y2="278.6" stroke="#2a2a2a" stroke-width="1.1"/>
<line x1="137.4" y1="278.6" x2="137.4" y2="280.8" stroke="#333" stroke-width="0.9"/>
<line x1="151.18" y1="278.6" x2="151.18" y2="280.8" stroke="#333" stroke-width="0.9"/>
<line x1="164.97" y1="278.6" x2="164.97" y2="280.8" stroke="#333" stroke-width="0.9"/>
<line x1="178.75" y1="278.6" x2="178.75" y2="280.8" stroke="#333" stroke-width="0.9"/>
<line x1="192.53" y1="278.6" x2="192.53" y2="280.8" stroke="#333" stroke-width="0.9"/>
<line x1="206.32" y1="278.6" x2="206.32" y2="280.8" stroke="#333" stroke-width="0.9"/>
<line x1="220.1" y1="278.6" x2="220.1" y2="280.8" stroke="#333" stroke-width="0.9"/>
<line x1="135.4" y1="278.6" x2="137.4" y2="278.6" stroke="#444" stroke-width="0.9"/>
<text x="135.4" y="282.1" text-anchor="end" font-family='"Liberation Serif", serif' font-weight="bold" font-size="10.4">0</text>
<line x1="135.4" y1="250.49" x2="137.4" y2="250.49" stroke="#444" stroke-width="0.9"/>
<text x="135.4" y="253.99" text-anchor="end" font-family='"Liberation Serif", serif' font-weight="bold" font-size="10.4">10</text>
<line x1="135.4" y1="222.38" x2="137.4" y2="222.38" stroke="#444" stroke-width="0.9"/>
<text x="135.4" y="225.88" text-anchor="end" font-family='"Liberation Serif", serif' font-weight="bold" font-size="10.4">20</text>
<clipPath id="c22"><rect x="233.8" y="195.1" width="83.6" height="84.4"/></clipPath>
<polyline clip-path="url(#c22)" points="233.8,275.1 247.73,268 261.67,268 275.6,265.4 289.53,263.6 303.47,262.4 317.4,259.7" fill="none" stroke="#2222d6" stroke-width="1.55" stroke-linejoin="round"/>
<polyline clip-path="url(#c22)" points="233.8,276.4 247.73,270.7 261.67,271 275.6,268.9 289.53,266.8 303.47,265 317.4,261.5" fill="none" stroke="#2222d6" stroke-width="1.55" stroke-linejoin="round"/>
<polyline clip-path="url(#c22)" points="233.8,276.9 247.73,272.5 261.67,273.3 275.6,271 289.53,269.8 303.47,268 317.4,267.2" fill="none" stroke="#2222d6" stroke-width="1.55" stroke-linejoin="round"/>
<polyline clip-path="url(#c22)" points="233.8,277.4 247.73,273.3 261.67,274.2 275.6,272.1 289.53,271 303.47,266.3 317.4,266.3" fill="none" stroke="#2222d6" stroke-width="1.55" stroke-linejoin="round"/>
<polyline clip-path="url(#c22)" points="233.8,277.8 247.73,274.2 261.67,275.1 275.6,273.3 289.53,272.5 303.47,269.3 317.4,268" fill="none" stroke="#2222d6" stroke-width="1.55" stroke-linejoin="round"/>
<line x1="233.8" y1="195.1" x2="317.4" y2="195.1" stroke="#8a8a8a" stroke-width="1.2"/>
<line x1="317.4" y1="195.1" x2="317.4" y2="278.5" stroke="#5a5a5a" stroke-width="1.1"/>
<line x1="233.8" y1="195.1" x2="233.8" y2="278.5" stroke="#5a5a5a" stroke-width="1.1"/>
<line x1="233.8" y1="278.5" x2="317.4" y2="278.5" stroke="#2a2a2a" stroke-width="1.1"/>
<line x1="233.8" y1="278.5" x2="233.8" y2="280.7" stroke="#333" stroke-width="0.9"/>
<line x1="247.73" y1="278.5" x2="247.73" y2="280.7" stroke="#333" stroke-width="0.9"/>
<line x1="261.67" y1="278.5" x2="261.67" y2="280.7" stroke="#333" stroke-width="0.9"/>
<line x1="275.6" y1="278.5" x2="275.6" y2="280.7" stroke="#333" stroke-width="0.9"/>
<line x1="289.53" y1="278.5" x2="289.53" y2="280.7" stroke="#333" stroke-width="0.9"/>
<line x1="303.47" y1="278.5" x2="303.47" y2="280.7" stroke="#333" stroke-width="0.9"/>
<line x1="317.4" y1="278.5" x2="317.4" y2="280.7" stroke="#333" stroke-width="0.9"/>
<line x1="231.8" y1="278.5" x2="233.8" y2="278.5" stroke="#444" stroke-width="0.9"/>
<text x="231.8" y="282" text-anchor="end" font-family='"Liberation Serif", serif' font-weight="bold" font-size="10.4">0</text>
<line x1="231.8" y1="250.7" x2="233.8" y2="250.7" stroke="#444" stroke-width="0.9"/>
<text x="231.8" y="254.2" text-anchor="end" font-family='"Liberation Serif", serif' font-weight="bold" font-size="10.4">10</text>
<line x1="231.8" y1="222.9" x2="233.8" y2="222.9" stroke="#444" stroke-width="0.9"/>
<text x="231.8" y="226.4" text-anchor="end" font-family='"Liberation Serif", serif' font-weight="bold" font-size="10.4">20</text>
<clipPath id="c23"><rect x="333.8" y="195" width="83.3" height="84.5"/></clipPath>
<polyline clip-path="url(#c23)" points="333.8,275.2 347.68,273.4 361.57,273 375.45,269.8 389.33,267.2 403.22,264.5 417.1,251.3" fill="none" stroke="#2222d6" stroke-width="1.55" stroke-linejoin="round"/>
<polyline clip-path="url(#c23)" points="333.8,276 347.68,274.3 361.57,273.7 375.45,271.3 389.33,268.4 403.22,266 417.1,258.3" fill="none" stroke="#2222d6" stroke-width="1.55" stroke-linejoin="round"/>
<polyline clip-path="url(#c23)" points="333.8,276.6 347.68,275.2 361.57,274.8 375.45,272.5 389.33,269 403.22,267.2 417.1,262.8" fill="none" stroke="#2222d6" stroke-width="1.55" stroke-linejoin="round"/>
<polyline clip-path="url(#c23)" points="333.8,277.3 347.68,276.6 361.57,276 375.45,273.7 389.33,269.5 403.22,266.3 417.1,270.2" fill="none" stroke="#2222d6" stroke-width="1.55" stroke-linejoin="round"/>
<polyline clip-path="url(#c23)" points="333.8,277.8 347.68,277.3 361.57,276.9 375.45,275.2 389.33,270.7 403.22,267.7 417.1,263.7" fill="none" stroke="#2222d6" stroke-width="1.55" stroke-linejoin="round"/>
<line x1="333.8" y1="195" x2="417.1" y2="195" stroke="#8a8a8a" stroke-width="1.2"/>
<line x1="417.1" y1="195" x2="417.1" y2="278.5" stroke="#5a5a5a" stroke-width="1.1"/>
<line x1="333.8" y1="195" x2="333.8" y2="278.5" stroke="#5a5a5a" stroke-width="1.1"/>
<line x1="333.8" y1="278.5" x2="417.1" y2="278.5" stroke="#2a2a2a" stroke-width="1.1"/>
<line x1="333.8" y1="278.5" x2="333.8" y2="280.7" stroke="#333" stroke-width="0.9"/>
<line x1="347.68" y1="278.5" x2="347.68" y2="280.7" stroke="#333" stroke-width="0.9"/>
<line x1="361.57" y1="278.5" x2="361.57" y2="280.7" stroke="#333" stroke-width="0.9"/>
<line x1="375.45" y1="278.5" x2="375.45" y2="280.7" stroke="#333" stroke-width="0.9"/>
<line x1="389.33" y1="278.5" x2="389.33" y2="280.7" stroke="#333" stroke-width="0.9"/>
<line x1="403.22" y1="278.5" x2="403.22" y2="280.7" stroke="#333" stroke-width="0.9"/>
<line x1="417.1" y1="278.5" x2="417.1" y2="280.7" stroke="#333" stroke-width="0.9"/>
<line x1="331.8" y1="278.5" x2="333.8" y2="278.5" stroke="#444" stroke-width="0.9"/>
<text x="331.8" y="282" text-anchor="end" font-family='"Liberation Serif", serif' font-weight="bold" font-size="10.4">0</text>
<line x1="331.8" y1="250.67" x2="333.8" y2="250.67" stroke="#444" stroke-width="0.9"/>
<text x="331.8" y="254.17" text-anchor="end" font-family='"Liberation Serif", serif' font-weight="bold" font-size="10.4">10</text>
<line x1="331.8" y1="222.83" x2="333.8" y2="222.83" stroke="#444" stroke-width="0.9"/>
<text x="331.8" y="226.33" text-anchor="end" font-family='"Liberation Serif", serif' font-weight="bold" font-size="10.4">20</text>
<clipPath id="c24"><rect x="431.7" y="194.8" width="83.7" height="84.7"/></clipPath>
<polyline clip-path="url(#c24)" points="431.7,273.7 445.65,269 459.6,274.8 473.55,273.7 487.5,273 501.45,272.5 515.4,272" fill="none" stroke="#2222d6" stroke-width="1.55" stroke-linejoin="round"/>
<polyline clip-path="url(#c24)" points="431.7,274.3 445.65,273.7 459.6,271.3 473.55,270.7 487.5,269.8 501.45,269.1 515.4,268.1" fill="none" stroke="#2222d6" stroke-width="1.55" stroke-linejoin="round"/>
<polyline clip-path="url(#c24)" points="431.7,275.2 445.65,274.3 459.6,272 473.55,271.3 487.5,270.7 501.45,269.8 515.4,269" fill="none" stroke="#2222d6" stroke-width="1.55" stroke-linejoin="round"/>
<polyline clip-path="url(#c24)" points="431.7,276 445.65,275.2 459.6,272.5 473.55,272 487.5,271.3 501.45,270.4 515.4,269.8" fill="none" stroke="#2222d6" stroke-width="1.55" stroke-linejoin="round"/>
<polyline clip-path="url(#c24)" points="431.7,276.9 445.65,275.5 459.6,273.4 473.55,272.5 487.5,271.6 501.45,270.9 515.4,270.2" fill="none" stroke="#2222d6" stroke-width="1.55" stroke-linejoin="round"/>
<line x1="431.7" y1="194.8" x2="515.4" y2="194.8" stroke="#8a8a8a" stroke-width="1.2"/>
<line x1="515.4" y1="194.8" x2="515.4" y2="278.5" stroke="#5a5a5a" stroke-width="1.1"/>
<line x1="431.7" y1="194.8" x2="431.7" y2="278.5" stroke="#5a5a5a" stroke-width="1.1"/>
<line x1="431.7" y1="278.5" x2="515.4" y2="278.5" stroke="#2a2a2a" stroke-width="1.1"/>
<line x1="431.7" y1="278.5" x2="431.7" y2="280.7" stroke="#333" stroke-width="0.9"/>
<line x1="445.65" y1="278.5" x2="445.65" y2="280.7" stroke="#333" stroke-width="0.9"/>
<line x1="459.6" y1="278.5" x2="459.6" y2="280.7" stroke="#333" stroke-width="0.9"/>
<line x1="473.55" y1="278.5" x2="473.55" y2="280.7" stroke="#333" stroke-width="0.9"/>
<line x1="487.5" y1="278.5" x2="487.5" y2="280.7" stroke="#333" stroke-width="0.9"/>
<line x1="501.45" y1="278.5" x2="501.45" y2="280.7" stroke="#333" stroke-width="0.9"/>
<line x1="515.4" y1="278.5" x2="515.4" y2="280.7" stroke="#333" stroke-width="0.9"/>
<line x1="429.7" y1="278.5" x2="431.7" y2="278.5" stroke="#444" stroke-width="0.9"/>
<text x="429.7" y="282" text-anchor="end" font-family='"Liberation Serif", serif' font-weight="bold" font-size="10.4">0</text>
<line x1="429.7" y1="257.57" x2="431.7" y2="257.57" stroke="#444" stroke-width="0.9"/>
<text x="429.7" y="261.07" text-anchor="end" font-family='"Liberation Serif", serif' font-weight="bold" font-size="10.4">10</text>
<line x1="429.7" y1="236.65" x2="431.7" y2="236.65" stroke="#444" stroke-width="0.9"/>
<text x="429.7" y="240.15" text-anchor="end" font-family='"Liberation Serif", serif' font-weight="bold" font-size="10.4">20</text>
<line x1="429.7" y1="215.73" x2="431.7" y2="215.73" stroke="#444" stroke-width="0.9"/>
<text x="429.7" y="219.23" text-anchor="end" font-family='"Liberation Serif", serif' font-weight="bold" font-size="10.4">30</text>
<clipPath id="c30"><rect x="39.7" y="285.2" width="83.6" height="84.4"/></clipPath>
<polyline clip-path="url(#c30)" points="39.7,365.6 53.63,365.12 67.57,364.63 81.5,364.15 95.43,363.67 109.37,363.18 123.3,362.7" fill="none" stroke="#000000" stroke-width="1.3" stroke-linejoin="round"/>
<polyline clip-path="url(#c30)" points="39.7,366.3 53.63,365.88 67.57,365.47 81.5,365.05 95.43,364.63 109.37,364.22 123.3,363.8" fill="none" stroke="#000000" stroke-width="1.3" stroke-linejoin="round"/>
<polyline clip-path="url(#c30)" points="39.7,366.8 53.63,366.42 67.57,366.03 81.5,365.65 95.43,365.27 109.37,364.88 123.3,364.5" fill="none" stroke="#000000" stroke-width="1.3" stroke-linejoin="round"/>
<polyline clip-path="url(#c30)" points="39.7,367.3 53.63,366.95 67.57,366.6 81.5,366.25 95.43,365.9 109.37,365.55 123.3,365.2" fill="none" stroke="#000000" stroke-width="1.3" stroke-linejoin="round"/>
<polyline clip-path="url(#c30)" points="39.7,367.7 53.63,367.42 67.57,367.13 81.5,366.85 95.43,366.57 109.37,366.28 123.3,366" fill="none" stroke="#000000" stroke-width="1.3" stroke-linejoin="round"/>
<line x1="39.7" y1="285.2" x2="123.3" y2="285.2" stroke="#8a8a8a" stroke-width="1.2"/>
<line x1="123.3" y1="285.2" x2="123.3" y2="368.6" stroke="#5a5a5a" stroke-width="1.1"/>
<line x1="39.7" y1="285.2" x2="39.7" y2="368.6" stroke="#5a5a5a" stroke-width="1.1"/>
<line x1="39.7" y1="368.6" x2="123.3" y2="368.6" stroke="#2a2a2a" stroke-width="1.1"/>
<line x1="39.7" y1="368.6" x2="39.7" y2="370.8" stroke="#333" stroke-width="0.9"/>
<line x1="53.63" y1="368.6" x2="53.63" y2="370.8" stroke="#333" stroke-width="0.9"/>
<line x1="67.57" y1="368.6" x2="67.57" y2="370.8" stroke="#333" stroke-width="0.9"/>
<line x1="81.5" y1="368.6" x2="81.5" y2="370.8" stroke="#333" stroke-width="0.9"/>
<line x1="95.43" y1="368.6" x2="95.43" y2="370.8" stroke="#333" stroke-width="0.9"/>
<line x1="109.37" y1="368.6" x2="109.37" y2="370.8" stroke="#333" stroke-width="0.9"/>
<line x1="123.3" y1="368.6" x2="123.3" y2="370.8" stroke="#333" stroke-width="0.9"/>
<line x1="37.7" y1="368.6" x2="39.7" y2="368.6" stroke="#444" stroke-width="0.9"/>
<text x="37.7" y="372.1" text-anchor="end" font-family='"Liberation Serif", serif' font-weight="bold" font-size="10.4">0</text>
<line x1="37.7" y1="342.94" x2="39.7" y2="342.94" stroke="#444" stroke-width="0.9"/>
<text x="37.7" y="346.44" text-anchor="end" font-family='"Liberation Serif", serif' font-weight="bold" font-size="10.4">20</text>
<line x1="37.7" y1="317.28" x2="39.7" y2="317.28" stroke="#444" stroke-width="0.9"/>
<text x="37.7" y="320.78" text-anchor="end" font-family='"Liberation Serif", serif' font-weight="bold" font-size="10.4">40</text>
<line x1="37.7" y1="291.62" x2="39.7" y2="291.62" stroke="#444" stroke-width="0.9"/>
<text x="37.7" y="295.12" text-anchor="end" font-family='"Liberation Serif", serif' font-weight="bold" font-size="10.4">60</text>
<clipPath id="c31"><rect x="137.6" y="284.5" width="83.8" height="84.2"/></clipPath>
<polyline clip-path="url(#c31)" points="137.6,366.3 151.57,364.5 165.53,362.5 179.5,361 193.47,359.5 207.43,358 221.4,356.7" fill="none" stroke="#000000" stroke-width="1.3" stroke-linejoin="round"/>
<polyline clip-path="url(#c31)" points="137.6,366.6 151.57,365 165.53,363.3 179.5,361.8 193.47,360.3 207.43,359 221.4,357.8" fill="none" stroke="#000000" stroke-width="1.3" stroke-linejoin="round"/>
<polyline clip-path="url(#c31)" points="137.6,367 151.57,365.5 165.53,364 179.5,362.5 193.47,361 207.43,359.7 221.4,359" fill="none" stroke="#000000" stroke-width="1.3" stroke-linejoin="round"/>
<polyline clip-path="url(#c31)" points="137.6,367.3 151.57,366 165.53,364.6 179.5,363.2 193.47,361.8 207.43,360.6 221.4,360.3" fill="none" stroke="#000000" stroke-width="1.3" stroke-linejoin="round"/>
<polyline clip-path="url(#c31)" points="137.6,367.7 151.57,366.5 165.53,365.3 179.5,364 193.47,362.8 207.43,361.8 221.4,361.5" fill="none" stroke="#000000" stroke-width="1.3" stroke-linejoin="round"/>
<line x1="137.6" y1="284.5" x2="221.4" y2="284.5" stroke="#8a8a8a" stroke-width="1.2"/>
<line x1="221.4" y1="284.5" x2="221.4" y2="367.7" stroke="#5a5a5a" stroke-width="1.1"/>
<line x1="137.6" y1="284.5" x2="137.6" y2="367.7" stroke="#5a5a5a" stroke-width="1.1"/>
<line x1="137.6" y1="367.7" x2="221.4" y2="367.7" stroke="#2a2a2a" stroke-width="1.1"/>
<line x1="137.6" y1="367.7" x2="137.6" y2="369.9" stroke="#333" stroke-width="0.9"/>
<line x1="151.57" y1="367.7" x2="151.57" y2="369.9" stroke="#333" stroke-width="0.9"/>
<line x1="165.53" y1="367.7" x2="165.53" y2="369.9" stroke="#333" stroke-width="0.9"/>
<line x1="179.5" y1="367.7" x2="179.5" y2="369.9" stroke="#333" stroke-width="0.9"/>
<line x1="193.47" y1="367.7" x2="193.47" y2="369.9" stroke="#333" stroke-width="0.9"/>
<line x1="207.43" y1="367.7" x2="207.43" y2="369.9" stroke="#333" stroke-width="0.9"/>
<line x1="221.4" y1="367.7" x2="221.4" y2="369.9" stroke="#333" stroke-width="0.9"/>
<line x1="135.6" y1="367.7" x2="137.6" y2="367.7" stroke="#444" stroke-width="0.9"/>
<text x="135.6" y="371.2" text-anchor="end" font-family='"Liberation Serif", serif' font-weight="bold" font-size="10.4">0</text>
<line x1="135.6" y1="339.01" x2="137.6" y2="339.01" stroke="#444" stroke-width="0.9"/>
<text x="135.6" y="342.51" text-anchor="end" font-family='"Liberation Serif", serif' font-weight="bold" font-size="10.4">10</text>
<line x1="135.6" y1="310.32" x2="137.6" y2="310.32" stroke="#444" stroke-width="0.9"/>
<text x="135.6" y="313.82" text-anchor="end" font-family='"Liberation Serif", serif' font-weight="bold" font-size="10.4">20</text>
<clipPath id="c32"><rect x="233.8" y="284.5" width="84" height="84"/></clipPath>
<polyline clip-path="url(#c32)" points="233.8,364.5 247.8,360.6 261.8,356.7 275.8,355.3 289.8,355 303.8,353.2 317.8,351.4" fill="none" stroke="#000000" stroke-width="1.3" stroke-linejoin="round"/>
<polyline clip-path="url(#c32)" points="233.8,365 247.8,361.5 261.8,358 275.8,356.2 289.8,355.7 303.8,354.4 317.8,352.7" fill="none" stroke="#000000" stroke-width="1.3" stroke-linejoin="round"/>
<polyline clip-path="url(#c32)" points="233.8,365.6 247.8,362 261.8,358.8 275.8,357.1 289.8,356.2 303.8,355.3 317.8,353.9" fill="none" stroke="#000000" stroke-width="1.3" stroke-linejoin="round"/>
<polyline clip-path="url(#c32)" points="233.8,365.9 247.8,363.3 261.8,360.3 275.8,358.8 289.8,358 303.8,356.7 317.8,356.2" fill="none" stroke="#000000" stroke-width="1.3" stroke-linejoin="round"/>
<polyline clip-path="url(#c32)" points="233.8,366.3 247.8,364.2 261.8,362.4 275.8,361.5 289.8,359.7 303.8,358 317.8,357.4" fill="none" stroke="#000000" stroke-width="1.3" stroke-linejoin="round"/>
<line x1="233.8" y1="284.5" x2="317.8" y2="284.5" stroke="#8a8a8a" stroke-width="1.2"/>
<line x1="317.8" y1="284.5" x2="317.8" y2="367.5" stroke="#5a5a5a" stroke-width="1.1"/>
<line x1="233.8" y1="284.5" x2="233.8" y2="367.5" stroke="#5a5a5a" stroke-width="1.1"/>
<line x1="233.8" y1="367.5" x2="317.8" y2="367.5" stroke="#2a2a2a" stroke-width="1.1"/>
<line x1="233.8" y1="367.5" x2="233.8" y2="369.7" stroke="#333" stroke-width="0.9"/>
<line x1="247.8" y1="367.5" x2="247.8" y2="369.7" stroke="#333" stroke-width="0.9"/>
<line x1="261.8" y1="367.5" x2="261.8" y2="369.7" stroke="#333" stroke-width="0.9"/>
<line x1="275.8" y1="367.5" x2="275.8" y2="369.7" stroke="#333" stroke-width="0.9"/>
<line x1="289.8" y1="367.5" x2="289.8" y2="369.7" stroke="#333" stroke-width="0.9"/>
<line x1="303.8" y1="367.5" x2="303.8" y2="369.7" stroke="#333" stroke-width="0.9"/>
<line x1="317.8" y1="367.5" x2="317.8" y2="369.7" stroke="#333" stroke-width="0.9"/>
<line x1="231.8" y1="367.5" x2="233.8" y2="367.5" stroke="#444" stroke-width="0.9"/>
<text x="231.8" y="371" text-anchor="end" font-family='"Liberation Serif", serif' font-weight="bold" font-size="10.4">0</text>
<line x1="231.8" y1="339.08" x2="233.8" y2="339.08" stroke="#444" stroke-width="0.9"/>
<text x="231.8" y="342.58" text-anchor="end" font-family='"Liberation Serif", serif' font-weight="bold" font-size="10.4">10</text>
<line x1="231.8" y1="310.65" x2="233.8" y2="310.65" stroke="#444" stroke-width="0.9"/>
<text x="231.8" y="314.15" text-anchor="end" font-family='"Liberation Serif", serif' font-weight="bold" font-size="10.4">20</text>
<clipPath id="c33"><rect x="334.9" y="283.8" width="82.9" height="84.3"/></clipPath>
<polyline clip-path="url(#c33)" points="334.9,365 348.72,361.5 362.53,359.7 376.35,359.7 390.17,356.2 403.98,352.7 417.8,349.6" fill="none" stroke="#000000" stroke-width="1.3" stroke-linejoin="round"/>
<polyline clip-path="url(#c33)" points="334.9,365.6 348.72,362.4 362.53,360.6 376.35,360.3 390.17,357.4 403.98,354.4 417.8,351.8" fill="none" stroke="#000000" stroke-width="1.3" stroke-linejoin="round"/>
<polyline clip-path="url(#c33)" points="334.9,365.9 348.72,363.3 362.53,361.5 376.35,360.6 390.17,358.8 403.98,356.7 417.8,353.9" fill="none" stroke="#000000" stroke-width="1.3" stroke-linejoin="round"/>
<polyline clip-path="url(#c33)" points="334.9,366.3 348.72,364.2 362.53,362.4 376.35,361 390.17,362.4 403.98,358.8 417.8,356.2" fill="none" stroke="#000000" stroke-width="1.3" stroke-linejoin="round"/>
<polyline clip-path="url(#c33)" points="334.9,366.8 348.72,365 362.53,363.3 376.35,362 390.17,363.3 403.98,361 417.8,358.8" fill="none" stroke="#000000" stroke-width="1.3" stroke-linejoin="round"/>
<line x1="334.9" y1="283.8" x2="417.8" y2="283.8" stroke="#8a8a8a" stroke-width="1.2"/>
<line x1="417.8" y1="283.8" x2="417.8" y2="367.1" stroke="#5a5a5a" stroke-width="1.1"/>
<line x1="334.9" y1="283.8" x2="334.9" y2="367.1" stroke="#5a5a5a" stroke-width="1.1"/>
<line x1="334.9" y1="367.1" x2="417.8" y2="367.1" stroke="#2a2a2a" stroke-width="1.1"/>
<line x1="334.9" y1="367.1" x2="334.9" y2="369.3" stroke="#333" stroke-width="0.9"/>
<line x1="348.72" y1="367.1" x2="348.72" y2="369.3" stroke="#333" stroke-width="0.9"/>
<line x1="362.53" y1="367.1" x2="362.53" y2="369.3" stroke="#333" stroke-width="0.9"/>
<line x1="376.35" y1="367.1" x2="376.35" y2="369.3" stroke="#333" stroke-width="0.9"/>
<line x1="390.17" y1="367.1" x2="390.17" y2="369.3" stroke="#333" stroke-width="0.9"/>
<line x1="403.98" y1="367.1" x2="403.98" y2="369.3" stroke="#333" stroke-width="0.9"/>
<line x1="417.8" y1="367.1" x2="417.8" y2="369.3" stroke="#333" stroke-width="0.9"/>
<line x1="332.9" y1="367.1" x2="334.9" y2="367.1" stroke="#444" stroke-width="0.9"/>
<text x="332.9" y="370.6" text-anchor="end" font-family='"Liberation Serif", serif' font-weight="bold" font-size="10.4">0</text>
<line x1="332.9" y1="338.57" x2="334.9" y2="338.57" stroke="#444" stroke-width="0.9"/>
<text x="332.9" y="342.07" text-anchor="end" font-family='"Liberation Serif", serif' font-weight="bold" font-size="10.4">10</text>
<line x1="332.9" y1="310.05" x2="334.9" y2="310.05" stroke="#444" stroke-width="0.9"/>
<text x="332.9" y="313.55" text-anchor="end" font-family='"Liberation Serif", serif' font-weight="bold" font-size="10.4">20</text>
<clipPath id="c34"><rect x="432.6" y="283.1" width="83.2" height="84.6"/></clipPath>
<polyline clip-path="url(#c34)" points="432.6,363.3 446.47,359.7 460.33,358 474.2,356.2 488.07,355 501.93,353.2 515.8,350.4" fill="none" stroke="#000000" stroke-width="1.3" stroke-linejoin="round"/>
<polyline clip-path="url(#c34)" points="432.6,363.8 446.47,360.6 460.33,358.8 474.2,357.1 488.07,355.7 501.93,353.9 515.8,352.1" fill="none" stroke="#000000" stroke-width="1.3" stroke-linejoin="round"/>
<polyline clip-path="url(#c34)" points="432.6,364.2 446.47,361.5 460.33,359.7 474.2,358 488.07,356.7 501.93,355.3 515.8,353.5" fill="none" stroke="#000000" stroke-width="1.3" stroke-linejoin="round"/>
<polyline clip-path="url(#c34)" points="432.6,364.5 446.47,362.4 460.33,360.6 474.2,358.8 488.07,357.4 501.93,356.2 515.8,354.4" fill="none" stroke="#000000" stroke-width="1.3" stroke-linejoin="round"/>
<polyline clip-path="url(#c34)" points="432.6,365 446.47,363.3 460.33,361.5 474.2,359.7 488.07,358.8 501.93,358 515.8,355.3" fill="none" stroke="#000000" stroke-width="1.3" stroke-linejoin="round"/>
<line x1="432.6" y1="283.1" x2="515.8" y2="283.1" stroke="#8a8a8a" stroke-width="1.2"/>
<line x1="515.8" y1="283.1" x2="515.8" y2="366.7" stroke="#5a5a5a" stroke-width="1.1"/>
<line x1="432.6" y1="283.1" x2="432.6" y2="366.7" stroke="#5a5a5a" stroke-width="1.1"/>
<line x1="432.6" y1="366.7" x2="515.8" y2="366.7" stroke="#2a2a2a" stroke-width="1.1"/>
<line x1="432.6" y1="366.7" x2="432.6" y2="368.9" stroke="#333" stroke-width="0.9"/>
<line x1="446.47" y1="366.7" x2="446.47" y2="368.9" stroke="#333" stroke-width="0.9"/>
<line x1="460.33" y1="366.7" x2="460.33" y2="368.9" stroke="#333" stroke-width="0.9"/>
<line x1="474.2" y1="366.7" x2="474.2" y2="368.9" stroke="#333" stroke-width="0.9"/>
<line x1="488.07" y1="366.7" x2="488.07" y2="368.9" stroke="#333" stroke-width="0.9"/>
<line x1="501.93" y1="366.7" x2="501.93" y2="368.9" stroke="#333" stroke-width="0.9"/>
<line x1="515.8" y1="366.7" x2="515.8" y2="368.9" stroke="#333" stroke-width="0.9"/>
<line x1="430.6" y1="366.7" x2="432.6" y2="366.7" stroke="#444" stroke-width="0.9"/>
<text x="430.6" y="370.2" text-anchor="end" font-family='"Liberation Serif", serif' font-weight="bold" font-size="10.4">0</text>
<line x1="430.6" y1="338.36" x2="432.6" y2="338.36" stroke="#444" stroke-width="0.9"/>
<text x="430.6" y="341.86" text-anchor="end" font-family='"Liberation Serif", serif' font-weight="bold" font-size="10.4">10</text>
<line x1="430.6" y1="310.02" x2="432.6" y2="310.02" stroke="#444" stroke-width="0.9"/>
<text x="430.6" y="313.52" text-anchor="end" font-family='"Liberation Serif", serif' font-weight="bold" font-size="10.4">20</text>
<text x="39.65" y="382.7" text-anchor="middle" font-family='"Liberation Sans", sans-serif' font-weight="bold" font-size="11.6">C</text>
<text x="52.3" y="382.7" text-anchor="middle" font-family='"Liberation Sans", sans-serif' font-weight="bold" font-size="11.6">-4</text>
<text x="67" y="382.7" text-anchor="middle" font-family='"Liberation Sans", sans-serif' font-weight="bold" font-size="11.6">-3</text>
<text x="80" y="382.7" text-anchor="middle" font-family='"Liberation Sans", sans-serif' font-weight="bold" font-size="11.6">-2</text>
<text x="94.45" y="382.7" text-anchor="middle" font-family='"Liberation Sans", sans-serif' font-weight="bold" font-size="11.6">-1</text>
<text x="109.8" y="382.7" text-anchor="middle" font-family='"Liberation Sans", sans-serif' font-weight="bold" font-size="11.6">0</text>
<text x="121.8" y="382.7" text-anchor="middle" font-family='"Liberation Sans", sans-serif' font-weight="bold" font-size="11.6">1</text>
<text x="139.55" y="382.47" text-anchor="middle" font-family='"Liberation Sans", sans-serif' font-weight="bold" font-size="11.6">C</text>
<text x="151.35" y="382.47" text-anchor="middle" font-family='"Liberation Sans", sans-serif' font-weight="bold" font-size="11.6">-4</text>
<text x="166.5" y="382.47" text-anchor="middle" font-family='"Liberation Sans", sans-serif' font-weight="bold" font-size="11.6">-3</text>
<text x="179.15" y="382.47" text-anchor="middle" font-family='"Liberation Sans", sans-serif' font-weight="bold" font-size="11.6">-2</text>
<text x="193.55" y="382.47" text-anchor="middle" font-family='"Liberation Sans", sans-serif' font-weight="bold" font-size="11.6">-1</text>
<text x="208.5" y="382.47" text-anchor="middle" font-family='"Liberation Sans", sans-serif' font-weight="bold" font-size="11.6">0</text>
<text x="221.2" y="382.47" text-anchor="middle" font-family='"Liberation Sans", sans-serif' font-weight="bold" font-size="11.6">1</text>
<text x="233.6" y="382.25" text-anchor="middle" font-family='"Liberation Sans", sans-serif' font-weight="bold" font-size="11.6">C</text>
<text x="246.3" y="382.25" text-anchor="middle" font-family='"Liberation Sans", sans-serif' font-weight="bold" font-size="11.6">-4</text>
<text x="261.25" y="382.25" text-anchor="middle" font-family='"Liberation Sans", sans-serif' font-weight="bold" font-size="11.6">-3</text>
<text x="274.7" y="382.25" text-anchor="middle" font-family='"Liberation Sans", sans-serif' font-weight="bold" font-size="11.6">-2</text>
<text x="288.95" y="382.25" text-anchor="middle" font-family='"Liberation Sans", sans-serif' font-weight="bold" font-size="11.6">-1</text>
<text x="303.85" y="382.25" text-anchor="middle" font-family='"Liberation Sans", sans-serif' font-weight="bold" font-size="11.6">0</text>
<text x="316.8" y="382.25" text-anchor="middle" font-family='"Liberation Sans", sans-serif' font-weight="bold" font-size="11.6">1</text>
<text x="335.5" y="382.02" text-anchor="middle" font-family='"Liberation Sans", sans-serif' font-weight="bold" font-size="11.6">C</text>
<text x="347.7" y="382.02" text-anchor="middle" font-family='"Liberation Sans", sans-serif' font-weight="bold" font-size="11.6">-4</text>
<text x="363.1" y="382.02" text-anchor="middle" font-family='"Liberation Sans", sans-serif' font-weight="bold" font-size="11.6">-3</text>
<text x="376.1" y="382.02" text-anchor="middle" font-family='"Liberation Sans", sans-serif' font-weight="bold" font-size="11.6">-2</text>
<text x="390.5" y="382.02" text-anchor="middle" font-family='"Liberation Sans", sans-serif' font-weight="bold" font-size="11.6">-1</text>
<text x="405.2" y="382.02" text-anchor="middle" font-family='"Liberation Sans", sans-serif' font-weight="bold" font-size="11.6">0</text>
<text x="417.7" y="382.02" text-anchor="middle" font-family='"Liberation Sans", sans-serif' font-weight="bold" font-size="11.6">1</text>
<text x="433.85" y="381.8" text-anchor="middle" font-family='"Liberation Sans", sans-serif' font-weight="bold" font-size="11.6">C</text>
<text x="446.15" y="381.8" text-anchor="middle" font-family='"Liberation Sans", sans-serif' font-weight="bold" font-size="11.6">-4</text>
<text x="461.55" y="381.8" text-anchor="middle" font-family='"Liberation Sans", sans-serif' font-weight="bold" font-size="11.6">-3</text>
<text x="474.15" y="381.8" text-anchor="middle" font-family='"Liberation Sans", sans-serif' font-weight="bold" font-size="11.6">-2</text>
<text x="488.55" y="381.8" text-anchor="middle" font-family='"Liberation Sans", sans-serif' font-weight="bold" font-size="11.6">-1</text>
<text x="503.5" y="381.8" text-anchor="middle" font-family='"Liberation Sans", sans-serif' font-weight="bold" font-size="11.6">0</text>
<text x="515.9" y="381.8" text-anchor="middle" font-family='"Liberation Sans", sans-serif' font-weight="bold" font-size="11.6">1</text>
<text x="276" y="400" text-anchor="middle" font-family='"Liberation Serif", serif' font-weight="bold" font-size="15">Log Peptide Concentration (μM)</text>
<text transform="translate(11.2,210) rotate(-90)" text-anchor="middle" font-family='"Liberation Sans", sans-serif' font-weight="bold" font-size="14.7">% Specific Lysis</text>
<text transform="translate(35.8,438.9) scale(1.14,1)" font-family='"Liberation Sans", sans-serif' font-weight="bold" font-size="22" stroke="#000" stroke-width="0.4">B</text>
<text x="141.2" y="443.6" text-anchor="middle" font-family='"Liberation Sans", sans-serif' font-weight="bold" font-size="15.2">SIV-CL10</text>
<rect x="73.3" y="496.43" width="47.9" height="84.37" fill="#fb1525" stroke="#1a1a1a" stroke-width="1"/>
<rect x="142.2" y="501.3" width="47" height="79.5" fill="#03a303" stroke="#1a1a1a" stroke-width="1"/>
<rect x="209.4" y="549.97" width="48" height="30.83" fill="#1b31fb" stroke="#1a1a1a" stroke-width="1"/>
<line x1="96.7" y1="460.74" x2="96.7" y2="494.13" stroke="#111" stroke-width="1.15"/>
<line x1="96.7" y1="497.63" x2="96.7" y2="532.12" stroke="#111" stroke-width="1.15"/>
<line x1="93.7" y1="460.74" x2="99.7" y2="460.74" stroke="#111" stroke-width="1.2"/>
<line x1="93.7" y1="532.12" x2="99.7" y2="532.12" stroke="#111" stroke-width="1.2"/>
<line x1="165.1" y1="478.58" x2="165.1" y2="499" stroke="#111" stroke-width="1.15"/>
<line x1="165.1" y1="502.5" x2="165.1" y2="524.01" stroke="#111" stroke-width="1.15"/>
<line x1="162.1" y1="478.58" x2="168.1" y2="478.58" stroke="#111" stroke-width="1.2"/>
<line x1="162.1" y1="524.01" x2="168.1" y2="524.01" stroke="#111" stroke-width="1.2"/>
<line x1="233.5" y1="546.73" x2="233.5" y2="547.67" stroke="#111" stroke-width="1.15"/>
<line x1="233.5" y1="551.17" x2="233.5" y2="553.22" stroke="#111" stroke-width="1.15"/>
<line x1="230.5" y1="546.73" x2="236.5" y2="546.73" stroke="#111" stroke-width="1.2"/>
<line x1="230.5" y1="553.22" x2="236.5" y2="553.22" stroke="#111" stroke-width="1.2"/>
<rect x="62.3" y="451" width="206.5" height="129.8" fill="none" stroke="#333" stroke-width="1.1"/>
<line x1="57.3" y1="580.8" x2="62.3" y2="580.8" stroke="#333" stroke-width="1"/>
<text x="54.6" y="585.1" text-anchor="end" font-family='"Liberation Serif", serif' font-weight="bold" font-size="12.8">0</text>
<line x1="57.3" y1="548.35" x2="62.3" y2="548.35" stroke="#333" stroke-width="1"/>
<text x="54.6" y="552.65" text-anchor="end" font-family='"Liberation Serif", serif' font-weight="bold" font-size="12.8">0.2</text>
<line x1="57.3" y1="515.9" x2="62.3" y2="515.9" stroke="#333" stroke-width="1"/>
<text x="54.6" y="520.2" text-anchor="end" font-family='"Liberation Serif", serif' font-weight="bold" font-size="12.8">0.4</text>
<line x1="57.3" y1="483.45" x2="62.3" y2="483.45" stroke="#333" stroke-width="1"/>
<text x="54.6" y="487.75" text-anchor="end" font-family='"Liberation Serif", serif' font-weight="bold" font-size="12.8">0.6</text>
<line x1="57.3" y1="451" x2="62.3" y2="451" stroke="#333" stroke-width="1"/>
<text x="54.6" y="455.3" text-anchor="end" font-family='"Liberation Serif", serif' font-weight="bold" font-size="12.8">0.8</text>
<line x1="96.5" y1="580.8" x2="96.5" y2="583.8" stroke="#333" stroke-width="1"/>
<line x1="165.2" y1="580.8" x2="165.2" y2="583.8" stroke="#333" stroke-width="1"/>
<line x1="233.8" y1="580.8" x2="233.8" y2="583.8" stroke="#333" stroke-width="1"/>
<text x="96.45" y="598.1" text-anchor="middle" font-family='"Liberation Serif", serif' font-weight="bold" font-size="13.3">1</text>
<text x="166.35" y="598.1" text-anchor="middle" font-family='"Liberation Serif", serif' font-weight="bold" font-size="13.3">2</text>
<text x="235" y="598.1" text-anchor="middle" font-family='"Liberation Serif", serif' font-weight="bold" font-size="13.3">3</text>
<text transform="translate(89.8,610.9) rotate(40)" font-family='"Liberation Serif", serif' font-weight="bold" font-size="13.3">Peptide</text>
<text transform="translate(136.9,607.8) rotate(40)" font-family='"Liberation Serif", serif' font-weight="bold" font-size="13.3">Peptide-NYVAC</text>
<text transform="translate(209.6,609.6) rotate(40)" font-family='"Liberation Serif", serif' font-weight="bold" font-size="13.3">NYVAC</text>
<text transform="translate(281.5,438.9) scale(1.14,1)" font-family='"Liberation Sans", sans-serif' font-weight="bold" font-size="22" stroke="#000" stroke-width="0.4">C</text>
<text x="383.6" y="443.6" text-anchor="middle" font-family='"Liberation Sans", sans-serif' font-weight="bold" font-size="15.2">SIV-Gag372</text>
<rect x="321.2" y="544.96" width="46.5" height="35.64" fill="#fb1525" stroke="#1a1a1a" stroke-width="1"/>
<rect x="390.1" y="508.78" width="46.1" height="71.82" fill="#03a303" stroke="#1a1a1a" stroke-width="1"/>
<rect x="457.4" y="566.56" width="47.8" height="14.04" fill="#1b31fb" stroke="#1a1a1a" stroke-width="1"/>
<line x1="344.2" y1="528.76" x2="344.2" y2="542.66" stroke="#111" stroke-width="1.15"/>
<line x1="344.2" y1="546.16" x2="344.2" y2="561.16" stroke="#111" stroke-width="1.15"/>
<line x1="341.2" y1="528.76" x2="347.2" y2="528.76" stroke="#111" stroke-width="1.2"/>
<line x1="341.2" y1="561.16" x2="347.2" y2="561.16" stroke="#111" stroke-width="1.2"/>
<line x1="413" y1="470.44" x2="413" y2="506.48" stroke="#111" stroke-width="1.15"/>
<line x1="413" y1="509.98" x2="413" y2="548.2" stroke="#111" stroke-width="1.15"/>
<line x1="410" y1="470.44" x2="416" y2="470.44" stroke="#111" stroke-width="1.2"/>
<line x1="410" y1="548.2" x2="416" y2="548.2" stroke="#111" stroke-width="1.2"/>
<line x1="478" y1="564.4" x2="484" y2="564.4" stroke="#111" stroke-width="1.2"/>
<line x1="478" y1="566.56" x2="484" y2="566.56" stroke="#111" stroke-width="1.2"/>
<rect x="310.2" y="451" width="205.4" height="129.6" fill="none" stroke="#333" stroke-width="1.1"/>
<line x1="305.2" y1="580.6" x2="310.2" y2="580.6" stroke="#333" stroke-width="1"/>
<text x="303.2" y="584.9" text-anchor="end" font-family='"Liberation Serif", serif' font-weight="bold" font-size="12.8">0</text>
<line x1="305.2" y1="559" x2="310.2" y2="559" stroke="#333" stroke-width="1"/>
<text x="298.8" y="563.3" text-anchor="end" font-family='"Liberation Serif", serif' font-weight="bold" font-size="12.8">0.2</text>
<line x1="305.2" y1="537.4" x2="310.2" y2="537.4" stroke="#333" stroke-width="1"/>
<text x="298.8" y="541.7" text-anchor="end" font-family='"Liberation Serif", serif' font-weight="bold" font-size="12.8">0.4</text>
<line x1="305.2" y1="515.8" x2="310.2" y2="515.8" stroke="#333" stroke-width="1"/>
<text x="298.8" y="520.1" text-anchor="end" font-family='"Liberation Serif", serif' font-weight="bold" font-size="12.8">0.6</text>
<line x1="305.2" y1="494.2" x2="310.2" y2="494.2" stroke="#333" stroke-width="1"/>
<text x="298.8" y="498.5" text-anchor="end" font-family='"Liberation Serif", serif' font-weight="bold" font-size="12.8">0.8</text>
<line x1="305.2" y1="472.6" x2="310.2" y2="472.6" stroke="#333" stroke-width="1"/>
<text x="301.8" y="476.9" text-anchor="end" font-family='"Liberation Serif", serif' font-weight="bold" font-size="12.8">1</text>
<line x1="305.2" y1="451" x2="310.2" y2="451" stroke="#333" stroke-width="1"/>
<text x="298.8" y="455.3" text-anchor="end" font-family='"Liberation Serif", serif' font-weight="bold" font-size="12.8">1.2</text>
<line x1="343.8" y1="580.6" x2="343.8" y2="583.6" stroke="#333" stroke-width="1"/>
<line x1="413.5" y1="580.6" x2="413.5" y2="583.6" stroke="#333" stroke-width="1"/>
<line x1="480.2" y1="580.6" x2="480.2" y2="583.6" stroke="#333" stroke-width="1"/>
<text x="343.3" y="597.1" text-anchor="middle" font-family='"Liberation Serif", serif' font-weight="bold" font-size="13.3">1</text>
<text x="413.5" y="597.1" text-anchor="middle" font-family='"Liberation Serif", serif' font-weight="bold" font-size="13.3">2</text>
<text x="480.65" y="597.1" text-anchor="middle" font-family='"Liberation Serif", serif' font-weight="bold" font-size="13.3">3</text>
<text transform="translate(342,615.2) rotate(40)" font-family='"Liberation Serif", serif' font-weight="bold" font-size="13.3">Peptide</text>
<text transform="translate(403.4,611.5) rotate(40)" font-family='"Liberation Serif", serif' font-weight="bold" font-size="13.3">Peptide-NYVAC</text>
<text transform="translate(478.7,613.5) rotate(40)" font-family='"Liberation Serif", serif' font-weight="bold" font-size="13.3">NYVAC</text>
<text transform="translate(10,513.5) rotate(-90)" text-anchor="middle" font-family='"Liberation Sans", sans-serif' font-weight="bold" font-size="12.9">Ratio High/(High+Low)</text>
<text transform="translate(27.2,517.9) rotate(-90)" text-anchor="middle" font-family='"Liberation Sans", sans-serif' font-weight="bold" font-size="12.9">CTL Avidity</text>
<text x="275.6" y="671.7" text-anchor="middle" font-family='"Liberation Sans", sans-serif' font-weight="bold" font-size="15.2">Groups</text>
</svg>
</body></html>
